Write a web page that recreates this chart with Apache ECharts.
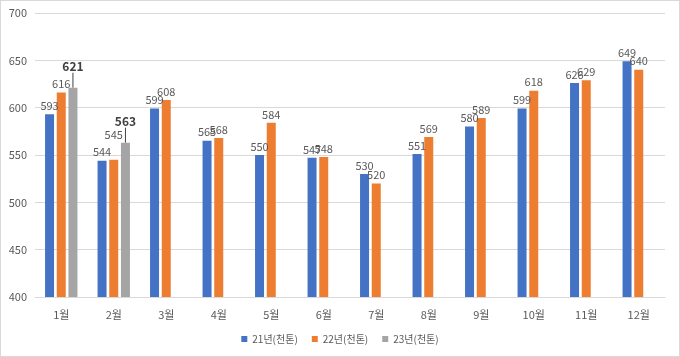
<!DOCTYPE html>
<html><head><meta charset="utf-8">
<script src="https://cdn.jsdelivr.net/npm/echarts@6/dist/echarts.min.js"></script>
<style>html,body{margin:0;padding:0;background:#fff}#c{width:680px;height:357px;box-sizing:border-box;border:1px solid #d9d9d9}</style>
</head><body><div id="c"></div>
<script>
const categories = ['1월','2월','3월','4월','5월','6월','7월','8월','9월','10월','11월','12월'];
const s21 = [593,544,599,565,550,547,530,551,580,599,626,649];
const s22 = [616,545,608,568,584,548,520,569,589,618,629,640];
const s23 = [621,563,null,null,null,null,null,null,null,null,null,null];
const names = ['21년(천톤)','22년(천톤)','23년(천톤)'];
const colors = ['#4472C4','#ED7D31','#A5A5A5'];
const font = '"Noto Sans CJK KR", "Noto Sans", sans-serif';
// manual label nudges (styling only): series index -> {category index: dy}
const labelNudge = {1: {1: -16}};
const chart = echarts.init(document.getElementById('c'));
function withNudge(i, data){
  return data.map((v, k) => {
    const n = labelNudge[i] && labelNudge[i][k];
    return n ? {value: v, label: {offset: [0, n]}} : v;
  });
}
function mk(i, data, extra){
  return Object.assign({
    name: names[i], type: 'bar', data: withNudge(i, data), barWidth: 9, barGap: '30%',
    itemStyle: {color: colors[i]},
    label: {show: true, position: 'top', color: '#595959', fontSize: 11, fontFamily: font, distance: 3}
  }, extra||{});
}
chart.setOption({
  animation: false,
  grid: {left: 34, right: 14, top: 12, bottom: 59},
  legend: {bottom: 7, left: 'center', itemWidth: 6, itemHeight: 6, itemGap: 14, icon: 'rect',
    textStyle: {color: '#595959', fontSize: 10, fontFamily: font}},
  xAxis: {type: 'category', data: categories,
    axisLine: {lineStyle: {color: '#d9d9d9'}}, axisTick: {show: false},
    axisLabel: {color: '#595959', fontSize: 11, fontFamily: font, margin: 12}},
  yAxis: {type: 'value', min: 400, max: 700, interval: 50,
    axisLine: {show: false}, axisTick: {show: false},
    splitLine: {lineStyle: {color: '#d9d9d9'}},
    axisLabel: {color: '#595959', fontSize: 11, fontFamily: font, margin: 8}},
  series: [
    mk(0, s21),
    mk(1, s22),
    mk(2, s23, {
      label: {show: true, position: 'top', color: '#404040', fontSize: 12, fontWeight: 'bold', fontFamily: font, distance: 3},
      labelLayout: {dy: -12},
      labelLine: {show: true, lineStyle: {color: '#404040', width: 1}}
    })
  ]
});
</script></body></html>
